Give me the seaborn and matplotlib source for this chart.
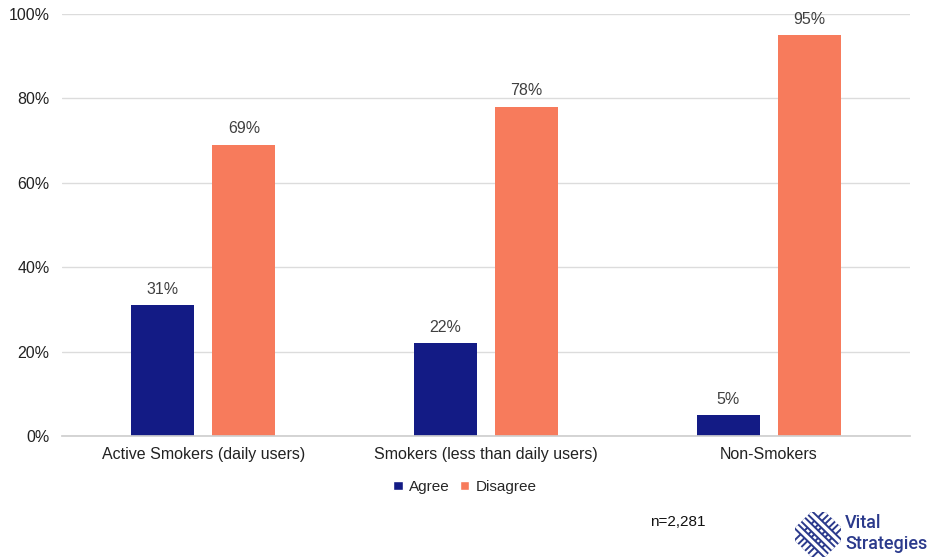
import matplotlib
matplotlib.use("Agg")
import matplotlib.pyplot as plt
import seaborn as sns
import pandas as pd
import numpy as np
from matplotlib.patches import Patch

categories = ["Active Smokers (daily users)", "Smokers (less than daily users)", "Non-Smokers"]
agree = [31, 22, 5]
disagree = [69, 78, 95]
series = ["Agree", "Disagree"]
colors = ["#131B85", "#F77B5C"]

df = pd.DataFrame({
    "group": categories * 2,
    "response": ["Agree"] * 3 + ["Disagree"] * 3,
    "value": agree + disagree,
})

sns.set_theme(style="white")
plt.rcParams["font.family"] = ["Liberation Sans", "DejaVu Sans"]

fig = plt.figure(figsize=(9.41, 5.59), dpi=100)
ax = fig.add_axes([0.066, 0.22, 0.901, 0.755])

sns.barplot(data=df, x="group", y="value", hue="response", order=categories,
            hue_order=series, palette=colors, width=0.573, gap=0.222,
            ax=ax, legend=False, saturation=1, linewidth=0)

ax.set_ylim(0, 100)
ax.set_xlim(-0.5, 2.5)
ax.set_yticks(range(0, 101, 20))
ax.set_yticklabels([f"{v}%" for v in range(0, 101, 20)], fontsize=11.5, color="#222222")
ax.tick_params(axis="y", length=0, pad=9)
ax.tick_params(axis="x", length=0, pad=8, labelsize=11.5, labelcolor="#222222")
ax.set_xlabel("")
ax.set_ylabel("")
ax.yaxis.grid(True, color="#DCDCDC", linewidth=1)
ax.set_axisbelow(True)
for s in ["left", "right", "top"]:
    ax.spines[s].set_visible(False)
ax.spines["bottom"].set_color("#CFCFCF")

for container in ax.containers:
    ax.bar_label(container, labels=[f"{v:.0f}%" for v in container.datavalues],
                 padding=6, fontsize=11.5, color="#404040")

handles = [Patch(facecolor=c, label=s) for c, s in zip(colors, series)]
fig.legend(handles=handles, loc="center", bbox_to_anchor=(0.494, 0.129), ncol=2,
           frameon=False, fontsize=11, handlelength=0.6, handleheight=0.6,
           handletextpad=0.4, columnspacing=0.7)

fig.text(0.691, 0.066, "n=2,281", fontsize=11, color="#111111", va="center")

# brand mark: woven lattice icon plus wordmark
navy = "#2B3A8C"
brand_font = ["Roboto", "DejaVu Sans"]
fig.text(0.898, 0.064, "Vital", fontsize=13, color=navy, va="center", ha="left",
         family=brand_font, weight="medium")
fig.text(0.898, 0.027, "Strategies", fontsize=13, color=navy, va="center", ha="left",
         family=brand_font, weight="medium")

icon = fig.add_axes([0.845, 0.004, 0.049, 0.0805])
icon.set_xlim(-1, 1)
icon.set_ylim(-1, 1)
icon.axis("off")
t = np.array([-0.92, 0.92])
for d, n in (((1, 1), (1, -1)), ((1, -1), (1, 1))):
    d = np.array(d) / np.sqrt(2)
    n = np.array(n) / np.sqrt(2)
    for off in (-0.42, 0.0, 0.42):
        xs = t * d[0] + off * n[0]
        ys = t * d[1] + off * n[1]
        icon.plot(xs, ys, color=navy, lw=5.2, solid_capstyle="butt")
        icon.plot(xs, ys, color="white", lw=2.4, solid_capstyle="butt")

fig.savefig("out.png", dpi=100)
